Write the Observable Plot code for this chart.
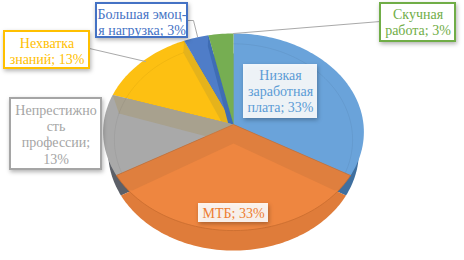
<!DOCTYPE html>
<html><head><meta charset="utf-8">
<script src="https://cdn.jsdelivr.net/npm/d3@7"></script>
<script src="https://cdn.jsdelivr.net/npm/@observablehq/plot@0.6"></script>
<style>html,body{margin:0;padding:0;background:#fff}svg{display:block}</style>
</head><body><div id="chart"></div>
<script>
const categories = ["Низкая заработная плата","МТБ","Непрестижность профессии","Нехватка знаний","Большая эмоц-я нагрузка","Скучная работа"];
const values = [33.33,33.33,13.33,13.33,3.33,3.33];
const percentLabels = ["33%","33%","13%","13%","3%","3%"];
const labelLines = [
  ["Низкая","заработная","плата; 33%"],
  ["МТБ; 33%"],
  ["Непрестижно","сть","профессии;","13%"],
  ["Нехватка","знаний; 13%"],
  ["Большая эмоц-","я нагрузка; 3%"],
  ["Скучная","работа; 3%"]
];
const faceColors = ["#6aa3da","#ee8640","#a9a9a9","#fdc012","#4f7dc8","#76ae52"];
const wallColors = ["#3f6f9f","#df7c3a","#5c6068","#c49a10","#36598f","#56803c"];
const textColors = ["#5b9bd5","#ed7d31","#a5a5a5","#ffc000","#4472c4","#70ad47"];

// Layout (page pixels)
const labelBoxes = [[243,64,317,118],[198,203,268,222],[10,98,101,169],[4,31,89,68],[96,3,187,37],[380,3,455,41]];
const labelLineStart = [75,213,110,43,14,14];
const linePitch = 16.2;
const leaders = [[[380,21],[233,33]],[[89,48],[145,61]],[[187,20],[193,20],[197,36]]];

// Pie angles from the values
const arcs = d3.pie().sort(null)(values).map((a,i)=>({i,a0:a.startAngle,a1:a.endAngle}));

// Perspective projection of the pie's top and lower discs
const top3d = {cx:233,cy:124,A:130,B:98,k:-0.076};
const low3d = {cx:233,cy:143,A:119,B:95.8,k:0.039};
const wall3d = {cx:233,cy:144,A:125,B:98,k:-0.076};
function proj(p,t){const u=Math.sin(t),v=-Math.cos(t),w=1+p.k*v;return {x:p.cx+p.A*u/w,y:p.cy+p.B*v/w};}
function rim(p,a0,a1){const n=Math.max(2,Math.ceil((a1-a0)*40));return d3.range(n+1).map(j=>proj(p,a0+(a1-a0)*j/n));}
const apex = p=>({x:p.cx,y:p.cy});
const poly=(pts,fill,extra={})=>Plot.line([...pts,pts[0]],{x:"x",y:"y",fill,stroke:"none",...extra});
const slice=(p,s,fill,extra={})=>poly([apex(p),...rim(p,s.a0,s.a1)],fill,extra);
const band=(t,fill)=>poly([apex(top3d),proj(top3d,t),proj(low3d,t),apex(low3d)],fill);

const [sBlue,sOrange,sGray,sYellow,sBlue2,sGreen]=arcs;
const t120=sOrange.a0,t240=sOrange.a1,t288=sGray.a1,t336=sYellow.a1,t348=sBlue2.a1;

const marks=[];
// side wall
[0,2,3,4,5,1].forEach(i=>marks.push(slice(wall3d,arcs[i],wallColors[i])));
// faces in depth order
marks.push(slice(top3d,sBlue,faceColors[0]));
marks.push(slice(top3d,sYellow,faceColors[3]));
marks.push(band(t336,"#e5b31c"));
marks.push(slice(top3d,sBlue2,faceColors[4]));
marks.push(band(t348,"#3f6db4"));
marks.push(slice(top3d,sGreen,faceColors[5]));
marks.push(slice(top3d,sGray,faceColors[2]));
marks.push(band(t288,"#a8a18e"));
// faint lower-disc arcs seen through the slices
[sBlue,sGray,sYellow].forEach(s=>marks.push(Plot.line(rim(low3d,s.a0,s.a1),{x:"x",y:"y",stroke:"#000",strokeOpacity:0.05,strokeWidth:1})));
// orange front slice
marks.push(slice(top3d,sOrange,"#df7f3e"));
marks.push(poly([apex(low3d),proj(low3d,t120),...rim(top3d,t120+0.17,t240-0.17),proj(low3d,t240)],faceColors[1]));
marks.push(Plot.line(rim(top3d,t120,t240),{x:"x",y:"y",stroke:"#c86c2e",strokeWidth:0.8}));
marks.push(Plot.line([proj(top3d,t120),apex(top3d),proj(top3d,t240)],{x:"x",y:"y",stroke:"#c9743a",strokeWidth:0.8}));

// leaders
leaders.forEach(l=>marks.push(Plot.line(l.map(([x,y])=>({x,y})),{x:"x",y:"y",stroke:"#a9a9a9",strokeWidth:1})));

// labels
const boxStroke=[null,null,"#a5a5a5","#ffc000","#4472c4","#70ad47"];
labelBoxes.forEach(([x1,y1,x2,y2],i)=>{
  marks.push(Plot.rect([{x1,y1,x2,y2}],{x1:"x1",y1:"y1",x2:"x2",y2:"y2",fill:"#fff",fillOpacity:boxStroke[i]?1:0.9,stroke:boxStroke[i]||"none",strokeWidth:2,imageFilter:"drop-shadow(1.5px 2px 2px rgba(0,0,0,0.3))"}));
  const cx=(x1+x2)/2;
  marks.push(Plot.text(labelLines[i].map((t,j)=>({t,x:cx,y:labelLineStart[i]+j*linePitch})),{x:"x",y:"y",text:"t",fill:textColors[i],fontSize:14,fontFamily:"Liberation Serif",textAnchor:"middle",lineAnchor:"middle"}));
});

const chart=Plot.plot({width:464,height:260,margin:0,
  x:{domain:[0,464],range:[0,464],axis:null},
  y:{domain:[0,260],range:[0,260],axis:null},
  style:{background:"#fff"},marks});
document.getElementById("chart").append(chart);
</script></body></html>
